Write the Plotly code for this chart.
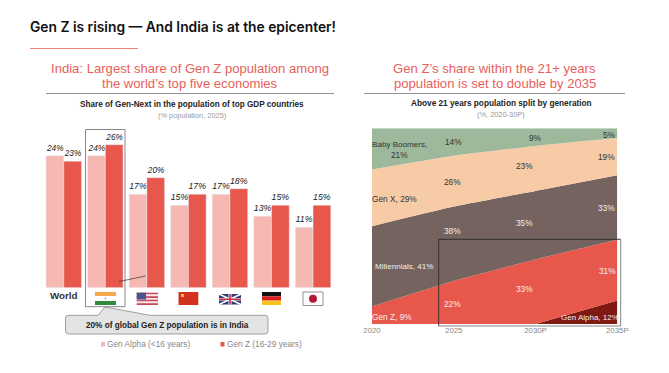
import plotly.graph_objects as go

W, H = 669, 373
FONT = "Liberation Sans"

# Left chart data
countries = ["World", "India", "USA", "China", "UK", "Germany", "Japan"]
country_ticks = ["World", "", "", "", "", "", ""]
gen_alpha_share = [24, 24, 17, 15, 17, 13, 11]
gen_z_share = [23, 26, 20, 17, 18, 15, 15]

# Right chart data
years = [2020, 2025, 2030, 2035]
year_ticks = ["2020", "2025", "2030P", "2035P"]
gen_alpha_split = [0, 0, 0, 12]
gen_z_split = [9, 22, 33, 31]
millennials_split = [41, 38, 35, 33]
gen_x_split = [29, 26, 23, 19]
boomers_split = [21, 14, 9, 5]

PINK = "#F6B8B3"
RED = "#E8574C"
DARKRED = "#7E1A12"
BROWN = "#75635F"
PEACH = "#F6CBA6"
GREEN = "#9DB89B"


def px(x):
    return x / W


def py(y):
    return 1 - y / H


fig = go.Figure()
fig.add_trace(go.Bar(name="Gen Alpha (<16 years)", x=countries, y=gen_alpha_share, marker_color=PINK,
                     text=[f"{v}%" for v in gen_alpha_share], textposition="outside", cliponaxis=False,
                     textfont=dict(size=8.8, style="italic", color="#222", family=FONT), xaxis="x", yaxis="y"))
fig.add_trace(go.Bar(name="Gen Z (16-29 years)", x=countries, y=gen_z_share, marker_color=RED,
                     text=[f"{v}%" for v in gen_z_share], textposition="outside", cliponaxis=False,
                     textfont=dict(size=8.8, style="italic", color="#222", family=FONT), xaxis="x", yaxis="y"))

for name, vals, col, shape in [("Gen Alpha", gen_alpha_split, DARKRED, "linear"), ("Gen Z", gen_z_split, RED, "spline"),
                               ("Millennials", millennials_split, BROWN, "spline"), ("Gen X", gen_x_split, PEACH, "spline"),
                               ("Baby Boomers", boomers_split, GREEN, "spline")]:
    fig.add_trace(go.Scatter(name=name, x=years, y=vals, stackgroup="one", mode="lines",
                             line=dict(width=0, color=col, shape=shape, smoothing=0.5),
                             fillcolor=col, xaxis="x2", yaxis="y2"))

shapes, anns = [], []


def rect(x0, y0, x1, y1, fill="rgba(0,0,0,0)", line=None, lw=0, layer="above"):
    shapes.append(dict(type="rect", xref="paper", yref="paper", x0=px(x0), x1=px(x1), y0=py(y0), y1=py(y1),
                       fillcolor=fill, line=dict(color=line or "rgba(0,0,0,0)", width=lw), layer=layer))


def seg(x0, y0, x1, y1, color, lw=1):
    shapes.append(dict(type="line", xref="paper", yref="paper", x0=px(x0), x1=px(x1), y0=py(y0), y1=py(y1),
                       line=dict(color=color, width=lw)))


def txt(x, y, s, size=8.3, color="#333", weight=None, anchor="center", family=FONT):
    f = dict(size=size, color=color, family=family)
    if weight:
        f["weight"] = weight
    anns.append(dict(xref="paper", yref="paper", x=px(x), y=py(y), text=s, showarrow=False, xanchor=anchor,
                     yanchor="middle", font=f, borderpad=0, borderwidth=0))


# Headers
txt(30, 27, "Gen Z is rising — And India is at the epicenter!", size=13.8, color="#111", weight=600, anchor="left", family="Inter")
seg(30, 48.5, 138, 48.5, "#F08078", 1.2)
HEAD = "#E8605A"
txt(189.5, 68, "India: Largest share of Gen Z population among", size=13.1, color=HEAD)
txt(189.5, 83, "the world’s top five economies", size=13.1, color=HEAD)
seg(46, 93.5, 334, 93.5, "#777", 0.8)
txt(494.5, 68, "Gen Z’s share within the 21+ years", size=13.1, color=HEAD)
txt(494.5, 83, "population is set to double by 2035", size=13.1, color=HEAD)
seg(364, 93.5, 625, 93.5, "#777", 0.8)
txt(191.5, 105, "Share of Gen-Next in the population of top GDP countries", size=8.2, color="#222", weight=700)
txt(191.5, 115, "(% population, 2025)", size=7.4, color="#999")
txt(501, 104, "Above 21 years population split by generation", size=8.25, color="#222", weight=700)
txt(501, 114.5, "(%, 2020-30P)", size=7.4, color="#999")

# India highlight, connector, callout
rect(85.5, 129.5, 125, 306.7, line="#888", lw=1, layer="below")
seg(119, 281.5, 145.7, 276, "#333", 0.7)
r = 3
callout = (f"M {px(65.5+r)} {py(315.3)} L {px(98)} {py(315.3)} L {px(105)} {py(307)} L {px(150)} {py(315.3)} "
           f"L {px(268-r)} {py(315.3)} Q {px(268)} {py(315.3)} {px(268)} {py(315.3+r)} "
           f"L {px(268)} {py(334-r)} Q {px(268)} {py(334)} {px(268-r)} {py(334)} "
           f"L {px(65.5+r)} {py(334)} Q {px(65.5)} {py(334)} {px(65.5)} {py(334-r)} "
           f"L {px(65.5)} {py(315.3+r)} Q {px(65.5)} {py(315.3)} {px(65.5+r)} {py(315.3)} Z")
shapes.append(dict(type="path", xref="paper", yref="paper", path=callout, fillcolor="#E4E4E4", line=dict(color="#8A8A8A", width=0.8)))
txt(167, 325, "20% of global Gen Z population is in India", size=8.2, color="#222", weight=700)

# Legend
rect(101, 342, 105, 346.5, fill=PINK)
txt(107, 344, "Gen Alpha (&lt;16 years)", size=8.3, color="#888", anchor="left")
rect(220.5, 342, 224.5, 346.5, fill=RED)
txt(226.5, 344, "Gen Z (16-29 years)", size=8.3, color="#888", anchor="left")

# Flags
rect(95, 292, 116, 296, fill="#F6A94F")
rect(95, 296, 116, 301, fill="#FFFFFF")
rect(95, 301, 116, 305, fill="#2E8B3A")
rect(104.7, 297.5, 106.3, 299.5, fill="#AAB")
for i in range(7):
    y0 = 292.7 + i * 12.3 / 7
    rect(136.7, y0, 158, y0 + 12.3 / 7, fill="#C9455A" if i % 2 == 0 else "#F5E6E6")
rect(136.7, 292.7, 146, 299.5, fill="#4A5590")
rect(178.5, 292, 198.3, 305, fill="#D3301F")
rect(181, 294, 184, 297, fill="#F5C542")
rect(219, 294, 241, 304.5, fill="#2A3A7A")
seg(219, 294, 241, 304.5, "#FFFFFF", 1.6)
seg(219, 304.5, 241, 294, "#FFFFFF", 1.6)
rect(219, 298, 241, 300.5, fill="#FFFFFF")
rect(228.5, 294, 231.5, 304.5, fill="#FFFFFF")
rect(219, 298.5, 241, 300, fill="#C8283C")
rect(229.2, 294, 230.8, 304.5, fill="#C8283C")
rect(262, 292, 281, 296.3, fill="#111111")
rect(262, 296.3, 281, 300.6, fill="#D8201F")
rect(262, 300.6, 281, 305, fill="#F6C21C")
rect(303, 292, 323, 305.5, fill="#FFFFFF", line="#777", lw=0.8)
shapes.append(dict(type="circle", xref="paper", yref="paper", x0=px(309), x1=px(317), y0=py(302.7), y1=py(294.7),
                   fillcolor="#B5173A", line=dict(width=0)))

# Right chart labels
D = "#333"
L = "#F3EEEE"
txt(399.5, 144, "Baby Boomers,", color=D, size=8.1)
txt(399.5, 155, "21%", color=D)
txt(453.7, 142.5, "14%", color=D)
txt(535, 137.5, "9%", color=D)
txt(609, 134.7, "5%", color=D)
txt(453, 181.7, "26%", color=D)
txt(524, 166, "23%", color=D)
txt(606.7, 157, "19%", color=D)
txt(394, 199, "Gen X, 29%", color=D)
txt(453, 230.7, "38%", color=L)
txt(524, 222.7, "35%", color=L)
txt(606.7, 208, "33%", color=L)
txt(403.5, 266.7, "Millennials, 41%", color=L, size=8.1)
txt(453, 304, "22%", color=L)
txt(524, 289, "33%", color=L)
txt(607, 271, "31%", color=L)
txt(392, 316.7, "Gen Z, 9%", color=L)
txt(589.5, 317, "Gen Alpha, 12%", color=L, size=8)

# Highlight frame on right chart
seg(438.7, 239.3, 620.7, 239.3, "#2A2A2A", 0.9)
seg(438.7, 239.3, 438.7, 326, "#2A2A2A", 0.9)
seg(620.7, 239.3, 620.7, 326, "#777", 0.9)
seg(438.7, 326, 620.7, 326, "#777", 0.9)

fig.update_layout(
    width=W, height=H, margin=dict(l=0, r=0, t=0, b=0, autoexpand=False), paper_bgcolor="white", plot_bgcolor="white",
    barmode="group", bargap=0.145, bargroupgap=0, showlegend=False, shapes=shapes, annotations=anns,
    font=dict(family=FONT),
    xaxis=dict(domain=[px(43), px(333.8)], type="category", categoryorder="array", categoryarray=countries,
               tickvals=countries, ticktext=country_ticks, showgrid=False, zeroline=False, showline=False,
               tickfont=dict(size=9.8, color="#333", family=FONT, weight=700), ticklen=3, tickcolor="rgba(0,0,0,0)", anchor="y"),
    yaxis=dict(domain=[py(287.7), py(122.7)], range=[0, 30], visible=False, anchor="x"),
    xaxis2=dict(domain=[px(372), px(617.3)], range=[2020, 2035], tickvals=years, ticktext=year_ticks,
                showgrid=False, zeroline=False, showline=False, ticklen=8, tickcolor="rgba(0,0,0,0)",
                tickfont=dict(size=7.8, color="#888", family=FONT), anchor="y2"),
    yaxis2=dict(domain=[py(324), py(128.3)], range=[0, 100], visible=False, anchor="x2"),
)

fig.write_html("out.html", config={"displayModeBar": False}, post_script="document.body.style.margin='0';")
